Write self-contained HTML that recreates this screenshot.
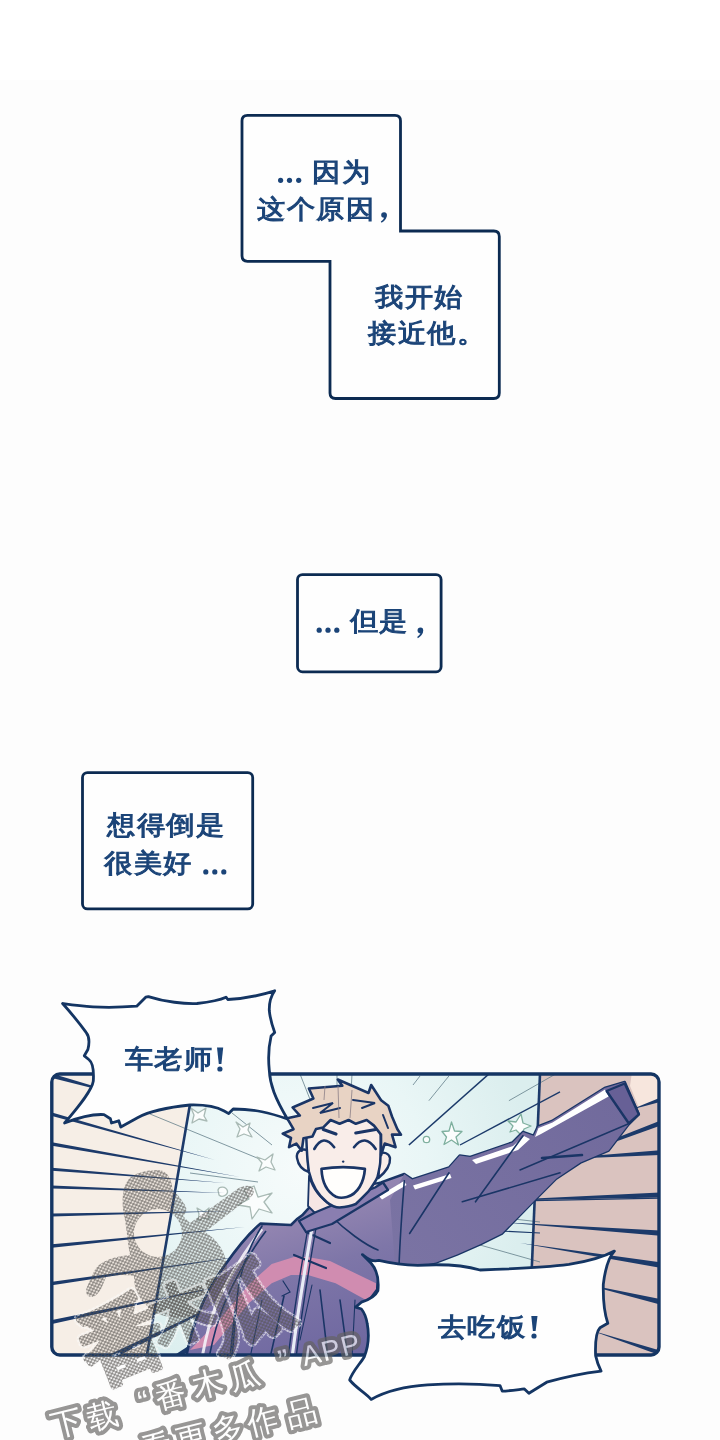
<!DOCTYPE html>
<html><head><meta charset="utf-8">
<style>
html,body{margin:0;padding:0;}
body{width:720px;height:1440px;overflow:hidden;position:relative;background:#fdfdfd;font-family:"Liberation Sans",sans-serif;}
.top{position:absolute;left:0;top:0;width:720px;height:80px;background:#ffffff;}
svg{position:absolute;left:0;top:0;}
.t{position:absolute;color:#1b4478;font-weight:400;-webkit-text-stroke:1.1px #1b4478;font-size:28.5px;line-height:37px;letter-spacing:0.5px;white-space:nowrap;transform:scaleY(0.92);transform-origin:50% 18px;}
</style></head>
<body>
<div class="top"></div>
<svg width="720" height="1440" viewBox="0 0 720 1440">
  <g fill="#fefefe" stroke="#0c2b52" stroke-width="2.8">
  <path d="M247.5,115.3 H395 Q400.5,115.3 400.5,120.8 V231 H493.8 Q499.3,231 499.3,236.5 V393 Q499.3,398.5 493.8,398.5 H335.5 Q330,398.5 330,393 V261.3 H247.5 Q242,261.3 242,255.8 V120.8 Q242,115.3 247.5,115.3 Z"/>
  <rect x="297.5" y="574.6" width="143.6" height="97.2" rx="5"/>
  <rect x="82.5" y="772.6" width="170.2" height="136.3" rx="5"/>
  </g>
  <g fill="#1b4478">
    <circle cx="280.6" cy="180.3" r="2.6"/><circle cx="289.5" cy="180.3" r="2.6"/><circle cx="298.7" cy="180.3" r="2.6"/>
    <circle cx="319.2" cy="630.2" r="2.6"/><circle cx="328" cy="630.2" r="2.6"/><circle cx="336.8" cy="630.2" r="2.6"/>
    <circle cx="205.8" cy="871.9" r="2.6"/><circle cx="214.8" cy="871.9" r="2.6"/><circle cx="223.8" cy="871.9" r="2.6"/>
    <g id="cm1" transform="translate(420.4,630.4)"><circle r="2.8"/><path d="M0.8,-2.6 C3.8,-1 3.6,4.5 -2.5,7.8 L-3.2,6.6 C0,4.4 0.6,2 -0.5,1.2 Z"/></g>
    <g transform="translate(384,215)"><circle r="2.8"/><path d="M0.8,-2.6 C3.8,-1 3.6,4.5 -2.5,7.8 L-3.2,6.6 C0,4.4 0.6,2 -0.5,1.2 Z"/></g>
  </g>
</svg>
<svg width="720" height="1440" viewBox="0 0 720 1440">
<defs>
  <clipPath id="pc"><rect x="52" y="1074" width="607.5" height="281.5" rx="8"/></clipPath>
  <linearGradient id="jk" gradientUnits="userSpaceOnUse" x1="280" y1="1200" x2="330" y2="1360">
    <stop offset="0" stop-color="#9a8ab4"/><stop offset="0.45" stop-color="#7e76a8"/><stop offset="1" stop-color="#6e67a0"/>
  </linearGradient>
  <linearGradient id="arm" gradientUnits="userSpaceOnUse" x1="400" y1="1250" x2="620" y2="1090">
    <stop offset="0" stop-color="#7a73a3"/><stop offset="1" stop-color="#716a9c"/>
  </linearGradient>
  <radialGradient id="glow" cx="300" cy="1170" r="230" gradientUnits="userSpaceOnUse">
    <stop offset="0" stop-color="#f6fbfb"/><stop offset="0.55" stop-color="#e9f6f6"/><stop offset="1" stop-color="#dbeeee"/>
  </radialGradient>
  <pattern id="dotpat" width="4.6" height="4" patternUnits="userSpaceOnUse" patternTransform="rotate(-20)">
    <rect width="4.6" height="4" fill="#fff"/><circle cx="1.15" cy="1" r="1.05" fill="#000"/><circle cx="3.45" cy="3" r="1.05" fill="#000"/>
  </pattern>
  <mask id="dotmask" maskUnits="userSpaceOnUse" x="0" y="1100" width="720" height="340">
    <rect x="0" y="1100" width="720" height="340" fill="url(#dotpat)"/>
  </mask>
</defs>
<g clip-path="url(#pc)">
  <rect x="50" y="1070" width="615" height="290" fill="#f6eee6"/>
  <polygon points="195.2,1072 540,1072 528,1358 146,1358" fill="url(#glow)"/>
  <polygon points="540,1072 662,1072 662,1358 528,1358" fill="#dac3bf"/>
  <polygon points="632,1072 662,1072 662,1098 639,1108 630,1086" fill="#f7e6dd"/>
  <!-- thin lines in cyan -->
  <g stroke="#5f7a86" stroke-width="0.9" fill="none" opacity="0.85">
    <line x1="150" y1="1114" x2="262" y2="1160"/>
    <line x1="232" y1="1113" x2="272" y2="1145"/>
    <line x1="190" y1="1173" x2="258" y2="1182"/>
    <line x1="300" y1="1074" x2="330" y2="1150"/>
    <line x1="337" y1="1074" x2="337" y2="1110"/>
    <line x1="352" y1="1074" x2="350" y2="1112"/>
    <line x1="448.9" y1="1076" x2="428.9" y2="1100.7"/>
    <line x1="420" y1="1076" x2="413" y2="1085"/>
    <line x1="555.6" y1="1074" x2="508.9" y2="1100.7"/>
    <line x1="400" y1="1285" x2="528" y2="1268"/>
    <line x1="505" y1="1218" x2="540" y2="1222"/>
    <line x1="480" y1="1245" x2="540" y2="1262"/>
  </g>
  <g stroke="#1c3a6a" fill="none">
    <line x1="488.9" y1="1074" x2="408.9" y2="1145" stroke-width="1.6"/>
    <line x1="560" y1="1091.8" x2="460" y2="1145" stroke-width="1.4"/>
    <line x1="420" y1="1203" x2="662" y2="1198" stroke-width="1.3"/>
    <line x1="380" y1="1225" x2="540" y2="1233" stroke-width="1.2"/>
  </g>
  <!-- stars -->
  <g fill="#fbfdfd" stroke="#a9bab5" stroke-width="1.3" stroke-linejoin="round">
    <path stroke="#7fb09f" d="M451.5,1122 L454.5,1131 L462,1131.5 L456,1137 L458.5,1145 L451.5,1140 L444,1144.5 L446.5,1137 L442,1131.5 L449,1131 Z"/>
    <circle stroke="#7fb09f" cx="426.5" cy="1139.5" r="3.2"/>
    <path stroke="#7fb09f" d="M508,1121 L516,1122 L521,1114 L523,1123 L531,1126 L524,1129 L522,1136 L516,1130 L510,1132 L513,1126 Z"/>
    <path d="M191,1108 L198,1113 L206,1108 L204,1116 L207,1121 L199,1119 L192,1123 L194,1115 Z"/>
    <path d="M236,1122 L243,1127 L250,1123 L248,1130 L252,1137 L244,1134 L237,1137 L240,1129 Z"/>
    <path d="M257,1157 L265,1160 L273,1154 L271,1162 L275,1170 L266,1167 L259,1171 L262,1163 Z"/>
    <path d="M254,1186 L258,1197 L272,1193 L264,1202 L272,1213 L259,1209 L252,1219 L250,1207 L238,1205 L249,1199 L244,1190 Z"/>
    <path d="M218,1190 C219,1186 226,1186 227.5,1191 C228,1195 222,1198 219,1195 Z"/>
    <path d="M197,1208 L204,1212 L209,1208 L208,1215 L210,1219 L203,1218 L198,1221 L199,1214 Z"/>
  </g>
  <!-- left speed lines -->
  <g fill="#1c3a6a">
    <polygon points="50,1073 50,1077.5 140,1100"/>
    <polygon points="50,1112 50,1115.5 215,1160"/>
    <polygon points="50,1142 50,1145.5 240,1177"/>
    <polygon points="50,1167.5 50,1170.5 225,1183"/>
    <polygon points="50,1185.5 50,1188.5 225,1193"/>
    <polygon points="50,1213.5 50,1216.5 235,1211"/>
    <polygon points="50,1244.5 50,1248 245,1227"/>
    <polygon points="50,1282 50,1285.5 250,1255"/>
    <polygon points="50,1320.5 50,1324.5 250,1280"/>
    <polygon points="102,1358 114,1358 262,1283"/>
    <polygon points="170,1358 179,1358 262,1298"/>
  </g>
  <line x1="195.2" y1="1074" x2="146.4" y2="1358" stroke="#1c3a6a" stroke-width="2.6"/>
  <line x1="540" y1="1074" x2="528" y2="1358" stroke="#1c3a6a" stroke-width="2.6"/>
  <!-- wall speed lines -->
  <g fill="#1c3a6a">
    <polygon points="662,1097 662,1101.5 630,1110"/>
    <polygon points="662,1120 662,1125 520,1176"/>
    <polygon points="662,1150 662,1155 540,1160"/>
    <polygon points="662,1192.5 662,1197.5 480,1201"/>
    <polygon points="662,1230.5 662,1236 500,1222"/>
    <polygon points="662,1262.5 662,1268 520,1243"/>
    <polygon points="662,1299.5 662,1305 580,1283"/>
    <polygon points="662,1351 662,1356 590,1330"/>
  </g>
  <!-- jacket body -->
  <path d="M186,1358 C192,1325 205,1292 225,1265 C237,1248 249,1233 260.6,1223.6 L291,1225 L296.7,1219.4 L302.2,1215.3 L316,1200 L368.5,1186 L381,1182.4 L404.3,1174 L412.2,1179.4 L449,1167.5 L459.7,1155.6 L470.3,1157 L512.5,1142.4 L523,1131.9 L533.6,1135.8 L538,1126.4 L552,1121 L604.6,1088 L624.7,1082 L638.8,1114.3 L628.7,1124.3 L608.6,1150.5 L580.4,1162.6 L556.2,1178.7 L534,1200.9 L502,1233.5 L480.8,1244 L457,1254.6 L436,1262.5 L409.6,1267.8 L380,1262 L370,1358 Z" fill="url(#jk)" stroke="#1a3566" stroke-width="2.6" stroke-linejoin="round"/>
  <!-- arm tone -->
  <path d="M404.3,1174 L412.2,1179.4 L449,1167.5 L459.7,1155.6 L470.3,1157 L512.5,1142.4 L523,1131.9 L533.6,1135.8 L538,1126.4 L552,1121 L604.6,1088 L624.7,1082 L638.8,1114.3 L628.7,1124.3 L608.6,1150.5 L580.4,1162.6 L556.2,1178.7 L534,1200.9 L502,1233.5 L480.8,1244 L457,1254.6 L436,1262.5 L409.6,1267.8 L395,1266 L390,1200 Z" fill="url(#arm)"/>
  <!-- rim highlights on arm -->
  <g fill="#ffffff">
    <path d="M413,1185.5 L450,1174 L451.5,1178 L415,1189.5 Z"/>
    <path d="M379,1196 L404,1181 L406.5,1185 L382,1199.5 Z"/>
    <path d="M472,1160 L513,1146 L524,1136 L530,1139 L518,1150 L476,1164 Z"/>
    <path d="M538.5,1128 L552.5,1122.5 L605,1089.5 L608.6,1096.5 L541,1134 L535,1137 Z"/>
  </g>
  <!-- cuff -->
  <path d="M606.6,1091 L624.7,1083.5 L638.8,1114.3 L628.7,1123.3 Z" fill="#676096" stroke="#1a3566" stroke-width="2.4" stroke-linejoin="round"/>
  <!-- pink band -->
  <path d="M190,1350 L218.9,1320 L249.4,1284 L271.7,1264 L293.9,1257 L307.8,1257 L330,1261 L376,1283.3 L376,1305.6 L335.6,1283.3 L307.8,1275 L291,1275 L271.7,1283.3 L249.4,1302.8 L232.8,1322.2 L214,1345 Z" fill="#d08cb0"/>
  <!-- shoulder rim -->
  <path d="M262,1229 C246,1250 230,1275 218,1300 C212,1315 206,1335 202,1358" stroke="#f4f2f8" stroke-width="3" fill="none" opacity="0.9"/>
  <path d="M266,1231 C250,1252 236,1277 225,1302 C219,1317 213,1337 209,1358" stroke="#1a3566" stroke-width="1.6" fill="none"/>
  <!-- fold lines -->
  <g stroke="#1a3566" fill="none" stroke-width="1.6" stroke-linecap="round">
    <path d="M262,1226 C250,1245 242,1265 238,1290 C236,1310 234,1335 232,1358"/>
    <path d="M404.3,1180.7 C402,1210 400,1240 399,1266"/>
    <path d="M449,1172.8 L409.6,1233.5"/>
    <path d="M523,1135.8 L475.5,1201.8"/>
    <path d="M560,1172.8 L462.3,1201.8"/>
    <path d="M582,1155 L542,1158" stroke-width="2.6"/>
    <path d="M628,1124 L520,1170" stroke-width="1.4"/>
    <path d="M380,1285 L365,1305"/>
    <path d="M283,1281 L290,1292 L282,1296" stroke-width="1.2"/>
    <path d="M355,1300 L352,1358" stroke-width="1.1"/>
    <path d="M262,1300 L250,1358" stroke-width="1.1"/>
    <path d="M312,1285 L300,1340" stroke-width="1.1"/>
    <path d="M306,1232 L330,1243" stroke-width="2.2"/>
    <path d="M294,1255 L326,1268" stroke-width="2.2"/>
    <path d="M284,1296 L270,1358"/>
    <path d="M320,1290 L328,1358"/>
    <path d="M340,1300 L348,1358"/>
    <path d="M235,1310 L230,1358"/>
    <path d="M330,1215 C345,1230 365,1245 378,1250"/>
  </g>
  <!-- zipper -->
  <path d="M313,1222 C306,1262 298,1310 292,1358" stroke="#e8ecf6" stroke-width="3.2" fill="none"/>
  <path d="M309,1222 C302,1262 294,1310 288,1358" stroke="#1a3566" stroke-width="1.4" fill="none"/>
  <path d="M317,1222 C310,1262 302,1310 296,1358" stroke="#1a3566" stroke-width="1.4" fill="none"/>
  <!-- neck -->
  <path d="M309,1176 C313,1190 322,1200 332,1206 L342,1208 C355,1204 366,1195 374,1184 L380,1183 L372,1196 L318,1216 L308,1206 Z" fill="#f6e6e4" stroke="#1a3566" stroke-width="1.8" stroke-linejoin="round"/>
  <!-- collar -->
  <path d="M299,1221 L315,1212.5 L375,1187.5 L383,1182.5 L388,1190 L332,1224 L306,1232 Z" fill="#8a7eb0" stroke="#1a3566" stroke-width="2.3" stroke-linejoin="round"/>
  <!-- ears -->
  <path d="M307,1150 C301,1148 296,1152 297,1158 C298,1164 302,1170 309,1172 Z" fill="#f9ede9" stroke="#1a3566" stroke-width="2.4" stroke-linejoin="round"/>
  <path d="M379.5,1153 C384,1152 389,1153 390,1158 C390.5,1164 387,1171 378.4,1178 Z" fill="#f9ede9" stroke="#1a3566" stroke-width="2.4" stroke-linejoin="round"/>
  <!-- face -->
  <path d="M306,1112 C306,1140 307,1160 309,1172 C312,1185 318,1195 327,1202.2 C331,1205.5 335,1207.6 339.6,1207.6 C346,1207 351,1206 355.8,1204 C361,1199 365,1195 368.5,1191.4 C373,1185 376,1181 377.5,1177 C379,1170 380,1166 380.2,1162.5 C381,1150 381,1130 380,1110 Z" fill="#f9ede9" stroke="#1a3566" stroke-width="2.5" stroke-linejoin="round"/>
  <!-- hair -->
  <path d="M282.7,1133.7 L293.5,1129.2 L287.2,1118.3 L299.9,1115.6 L292.6,1107.5 L313.4,1098.5 L308.9,1088.5 L342.3,1085.8 L337.8,1079.5 L368.5,1093 L371.2,1085 L381.1,1100.3 L388.3,1105.7 L392,1116.5 L397.4,1129.2 L401,1134.6 L392,1134.6 L395.6,1147.2 L384.7,1143.6 L381.1,1155 L381,1134.6 L374,1125.6 L366.7,1120 L355.8,1123.8 L348.6,1120 L339.6,1123.8 L330.6,1120 L323.3,1127.4 L316,1129 L312.5,1136.4 L303.5,1138.2 L301.7,1150.8 L296.3,1143.6 L289,1147.2 L291,1138 Z" fill="#e8d3c4" stroke="#1a3566" stroke-width="2.6" stroke-linejoin="round"/>
  <g stroke="#1a3566" fill="none" stroke-width="2" stroke-linecap="round">
    <path d="M313,1108 L333,1103 L320,1113 L340,1108"/>
    <path d="M353,1100 L375,1103 L362,1108"/>
    <path d="M383,1115 L388,1128"/>
  </g>
  <g stroke="#8a7f86" stroke-width="0.8" fill="none">
    <line x1="325" y1="1086" x2="324" y2="1100"/><line x1="338" y1="1086" x2="339" y2="1118"/><line x1="352" y1="1090" x2="350" y2="1118"/>
  </g>
  <!-- brows, eyes -->
  <g stroke="#1a3566" fill="none" stroke-linecap="round">
    <path d="M323.3,1129.5 L336,1134" stroke-width="3.2"/>
    <path d="M355.8,1133 L375.7,1129.5" stroke-width="3.2"/>
    <path d="M314.3,1149 Q323.3,1133 334.2,1147.2" stroke-width="2.6"/>
    <path d="M354,1147.2 Q365,1133 375.7,1149" stroke-width="2.6"/>
  </g>
  <circle cx="343.2" cy="1161.6" r="1.2" fill="#1a3566"/>
  <!-- mouth -->
  <path d="M321.5,1168.8 C336,1166.5 350,1166.5 364.9,1168.8 C364,1182 358,1194 346.8,1197 C343,1198 339,1198 336,1196.8 C327,1192 322,1182 321.5,1168.8 Z" fill="#fffefc" stroke="#1a3566" stroke-width="2.7" stroke-linejoin="round"/>
</g>
<rect x="51.8" y="1074" width="607.2" height="281" rx="8" fill="none" stroke="#143563" stroke-width="3.4"/>
<g opacity="0.64" mask="url(#dotmask)">
  <path fill="#575451" fill-rule="evenodd" d="M125,1220 C121,1205 122,1188 128,1180 C134,1173 145,1170 160,1170 C168,1172 172,1180 172.5,1190 C176,1193 180,1197 183,1202 C187,1207 188,1212 183,1216 L190,1223 L236,1190 C240,1186 250,1184 253,1188 C255,1192 253,1196 249,1198 L205,1232 C218,1240 226,1252 227,1268 C228,1290 216,1308 192,1316 C172,1320 156,1316 147,1306 C138,1298 134,1288 134,1276 C124,1274 114,1275 106,1277 C103,1284 101,1292 95,1296 C89,1299 84,1294 87,1287 C91,1279 93,1270 99,1265 C108,1258 120,1256 130,1255 C128,1245 127,1232 125,1220 Z M158,1209 C145,1209 134,1220 134,1233 C134,1246 145,1257 158,1257 C171,1257 182,1246 182,1233 C182,1220 171,1209 158,1209 Z"/>
</g>
<g opacity="0.66" mask="url(#dotmask)">
  <g font-family="'Liberation Sans',sans-serif" font-weight="700" text-anchor="middle" dominant-baseline="central" stroke-linejoin="round">
    <g fill="#fbfbfa" stroke="#fbfbfa" stroke-width="9">
      <g transform="translate(122,1340) rotate(-22)" font-size="84"><text x="0" y="0">番</text></g>
      <g transform="translate(182,1312) rotate(-22)" font-size="62"><text x="0" y="0">木</text></g>
      <g transform="translate(246,1305) rotate(-22)" font-size="86"><text x="0" y="0">瓜</text></g>
    </g>
    <g fill="#575451" stroke="#575451" stroke-width="4.5">
      <g transform="translate(122,1340) rotate(-22)" font-size="84"><text x="0" y="0">番</text></g>
      <g transform="translate(182,1312) rotate(-22)" font-size="62"><text x="0" y="0">木</text></g>
      <g transform="translate(246,1305) rotate(-22)" font-size="86"><text x="0" y="0">瓜</text></g>
    </g>
  </g>
</g>
<g opacity="0.66">
<g transform="translate(66.6,1423) rotate(-14)" font-family="'Liberation Sans',sans-serif" font-weight="400" font-size="31" fill="#ffffff" stroke="#646260" stroke-width="8" stroke-linejoin="round" paint-order="stroke" text-anchor="middle" dominant-baseline="central">
  <text x="0" y="0">下</text><text x="37" y="2">载</text><text x="80" y="-2">“</text><text x="108" y="-2">番</text><text x="146" y="-4">木</text><text x="184" y="-2">瓜</text><text x="226" y="-8">”</text>
  <text x="254" y="-7" font-size="28">A</text><text x="274" y="-7" font-size="28">P</text><text x="294" y="-7" font-size="28">P</text>
  <text x="81" y="45">看</text><text x="118" y="45">更</text><text x="155" y="45">多</text><text x="191" y="45.5">作</text><text x="230" y="47">品</text>
</g>
</g>

<path d="M62.6,1003.5 C80,1006 100,1009 136.7,1006.2 L145.7,997.2 L148.4,996.6 C165,1002 185,1004 197,1003.5 C210,1002 220,1000 226,997.2 L227.8,999.5 C240,999 255,997 274.7,990.8 C271,996 269,1002 269.3,1010.7 C270,1018 272,1025 274.7,1032.4 L271.1,1036 C269,1045 268,1058 269.3,1070.3 C270,1085 275,1098 287.4,1119 C270,1113 255,1109 233.2,1109 L228.7,1113.6 L224.2,1111 C215,1106 205,1104.6 190,1105 C170,1107 150,1111 137.5,1117.7 L120.8,1127 L118.75,1120.8 L111.5,1123 L110.4,1118.75 L104,1114.6 C95,1114 80,1117 64.6,1123 C80,1105 92,1090 93.3,1081.1 C94,1070 92,1062 88.8,1059.5 L84.3,1055.8 L87.9,1049.5 C90,1041 89,1036 86.1,1032.4 C80,1024 72,1014 62.6,1003.5 Z" fill="#fefefe" stroke="#143563" stroke-width="2.8" stroke-linejoin="round"/>

<path d="M362.4,1254.6 C368,1259 372,1262 378.9,1260.4 C390,1263 405,1265 417.8,1265.3 C440,1264 460,1264 480,1270 C510,1269 540,1268 568.9,1264.4 C585,1262 600,1259 614.4,1251.1 C608,1258 605,1270 603.3,1284.4 C603,1300 605,1315 607.8,1323.3 L600,1327.8 C596,1332 595,1340 595.6,1355.6 C597,1362 599,1367 601.1,1371.1 C585,1373 565,1377 546.7,1382.2 L528.9,1393.3 L524.4,1388.9 C515,1390 508,1391 502.2,1391.1 L500,1385.6 C480,1384 460,1383 427.5,1384.9 C410,1386 390,1389 371.1,1399.4 C365,1392 357,1389 349.7,1380 C352,1372 360,1364 364.3,1356.7 C369,1345 369,1333 367.2,1323.6 C366,1316 363,1311 361.4,1309 L355.6,1307.1 L361.4,1302.2 C368,1300 375,1297 377.9,1290.6 C379,1280 377,1270 371.1,1263.3 Z" fill="#fefefe" stroke="#143563" stroke-width="2.8" stroke-linejoin="round"/>

<g fill="#1b4478">
  <path d="M217,1047.5 L223.2,1047.5 L221.4,1064 L218.8,1064 Z"/><circle cx="219.9" cy="1069" r="2.6"/>
  <path d="M531.3,1316 L537.5,1316 L535.6,1331 L532.9,1331 Z"/><circle cx="534" cy="1336" r="2.6"/>
</g>

</svg>
<div class="t" style="left:124.8px;top:1041.4px;">车老师</div>
<div class="t" style="left:437.5px;top:1309.1px;">去吃饭</div>

<div class="t" style="left:312px;top:154px;">因为</div>
<div class="t" style="left:257px;top:191.4px;">这个原因</div>
<div class="t" style="left:375.3px;top:278.7px;">我开始</div>
<div class="t" style="left:368px;top:314.8px;">接近他。</div>
<div class="t" style="left:349.6px;top:603.2px;">但是</div>
<div class="t" style="left:107px;top:806.8px;">想得倒是</div>
<div class="t" style="left:104px;top:844.5px;">很美好</div>
</body></html>
